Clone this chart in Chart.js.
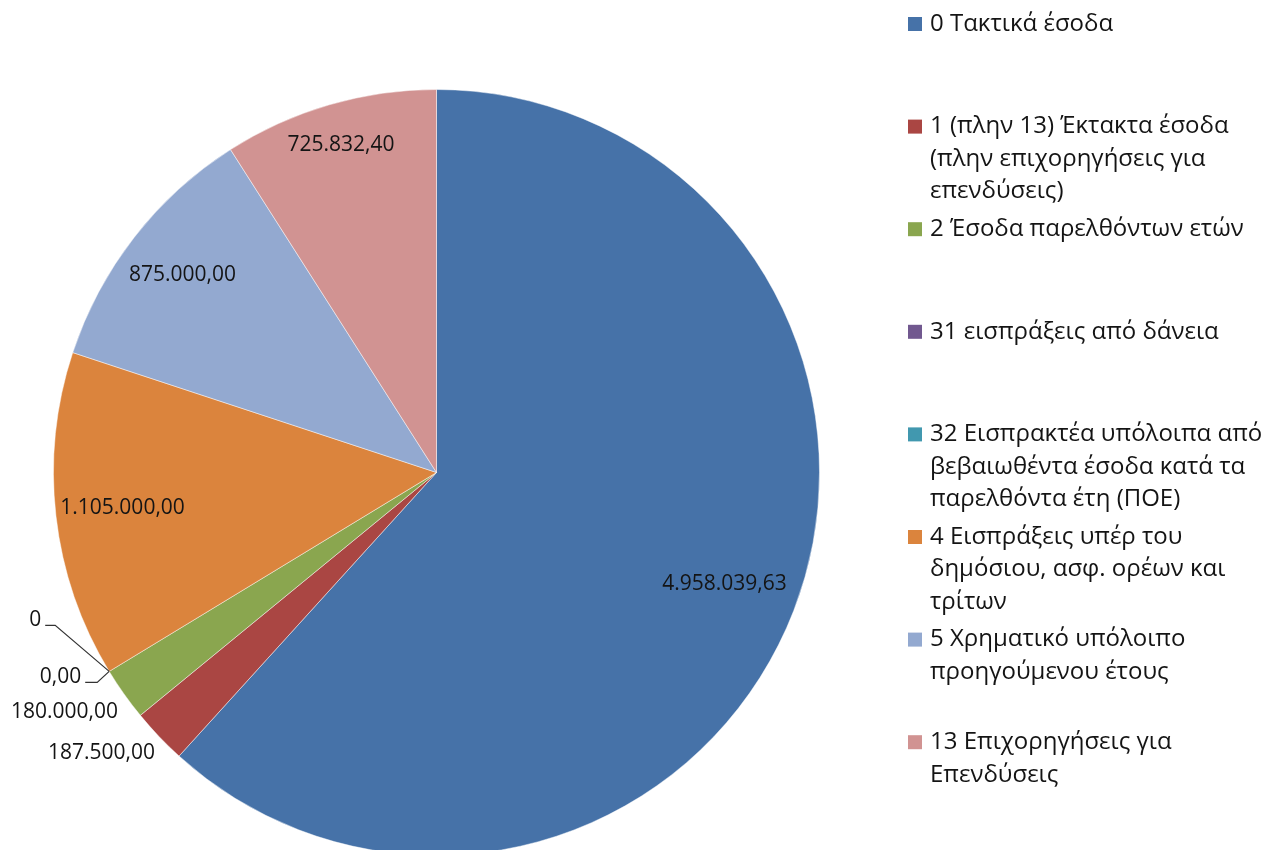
<!DOCTYPE html>
<html>
<head>
<meta charset="utf-8">
<script src="https://cdn.jsdelivr.net/npm/chart.js@4.4.1/dist/chart.umd.min.js"></script>
<style>
  html, body { margin: 0; padding: 0; background: #fff; overflow: hidden; }
  canvas { display: block; }
</style>
</head>
<body>
<canvas id="myChart" width="1269" height="1000"></canvas>
<script>
// categories (legend text, already broken into lines as in the original)
const categories = [
  ['0 Τακτικά έσοδα'],
  ['1 (πλην 13) Έκτακτα έσοδα', '(πλην επιχορηγήσεις για', 'επενδύσεις)'],
  ['2 Έσοδα παρελθόντων ετών'],
  ['31 εισπράξεις από δάνεια'],
  ['32 Εισπρακτέα υπόλοιπα από', 'βεβαιωθέντα έσοδα κατά τα', 'παρελθόντα έτη (ΠΟΕ)'],
  ['4 Εισπράξεις υπέρ του', 'δημόσιου, ασφ. ορέων και', 'τρίτων'],
  ['5 Χρηματικό υπόλοιπο', 'προηγούμενου έτους'],
  ['13 Επιχορηγήσεις για', 'Επενδύσεις']
];
const values = [4958039.63, 187500, 180000, 0, 0, 1105000, 875000, 725832.40];
const decimals = [2, 2, 2, 0, 2, 2, 2, 2];
const colors = ['#4672A8', '#AA4643', '#8AA64F', '#71588F', '#4198AF', '#DB843D', '#93A9D0', '#D19392'];

// where each value label goes (inside: fraction of radius, outside: offsets from the arc edge)
const labelPlace = [
  { r: 0.806 },
  { dx: -4, dy: 17 },
  { dx: -6, dy: 18 },
  { dx: -68, dy: -51, leader: [[-54, -46], [-64, -46]] },
  { dx: -28, dy: 6, leader: [[-12, 11], [-24, 11]] },
  { r: 0.825 },
  { r: 0.84 },
  { r: 0.89 }
];

function fmt(v, d) {
  let parts = v.toFixed(d).split('.');
  parts[0] = parts[0].replace(/\B(?=(\d{3})+(?!\d))/g, '.');
  return parts.join(',');
}

// value labels on / next to the slices
const valueLabels = {
  id: 'valueLabels',
  afterDatasetsDraw(chart) {
    const ctx = chart.ctx;
    const meta = chart.getDatasetMeta(0);
    ctx.save();
    ctx.font = '21px "Open Sans"';
    ctx.fillStyle = '#141414';
    ctx.textBaseline = 'middle';
    meta.data.forEach((arc, i) => {
      const p = arc.getProps(['x', 'y', 'startAngle', 'endAngle', 'outerRadius'], true);
      const mid = (p.startAngle + p.endAngle) / 2;
      const txt = fmt(values[i], decimals[i]);
      const place = labelPlace[i];
      if (place.r) {
        ctx.textAlign = 'center';
        ctx.fillText(txt, p.x + Math.cos(mid) * p.outerRadius * place.r, p.y + Math.sin(mid) * p.outerRadius * place.r);
      } else {
        const ex = p.x + Math.cos(mid) * p.outerRadius;
        const ey = p.y + Math.sin(mid) * p.outerRadius;
        if (place.leader) {
          ctx.strokeStyle = '#333333';
          ctx.lineWidth = 1.2;
          ctx.beginPath();
          ctx.moveTo(ex, ey);
          place.leader.forEach(pt => ctx.lineTo(ex + pt[0], ey + pt[1]));
          ctx.stroke();
        }
        ctx.textAlign = 'right';
        ctx.fillText(txt, ex + place.dx, ey + place.dy);
      }
    });
    ctx.restore();
  }
};

// legend on the right, like the excel one
const sideLegend = {
  id: 'sideLegend',
  afterDraw(chart) {
    const ctx = chart.ctx;
    ctx.save();
    ctx.font = '24px "Open Sans"';
    ctx.textBaseline = 'middle';
    ctx.textAlign = 'left';
    categories.forEach((lines, i) => {
      const y0 = 24 + i * 102.6;
      ctx.fillStyle = colors[i];
      ctx.fillRect(908, y0 - 7, 14, 14);
      ctx.fillStyle = '#141414';
      lines.forEach((t, j) => ctx.fillText(t, 930, y0 + j * 32.5));
    });
    ctx.restore();
  }
};

const ctx = document.getElementById('myChart');
new Chart(ctx.getContext('2d'), {
  type: 'pie',
  data: {
    labels: categories,
    datasets: [{
      data: values,
      backgroundColor: colors,
      borderColor: 'rgba(255,255,255,0.45)',
      borderWidth: c => values[c.dataIndex] ? 1 : 0
    }]
  },
  options: {
    responsive: false,
    animation: false,
    layout: { padding: { left: 53, top: 89, right: 449, bottom: 144 } },
    plugins: {
      legend: { display: false },
      tooltip: { enabled: false }
    }
  },
  plugins: [valueLabels, sideLegend]
});
</script>
</body>
</html>
